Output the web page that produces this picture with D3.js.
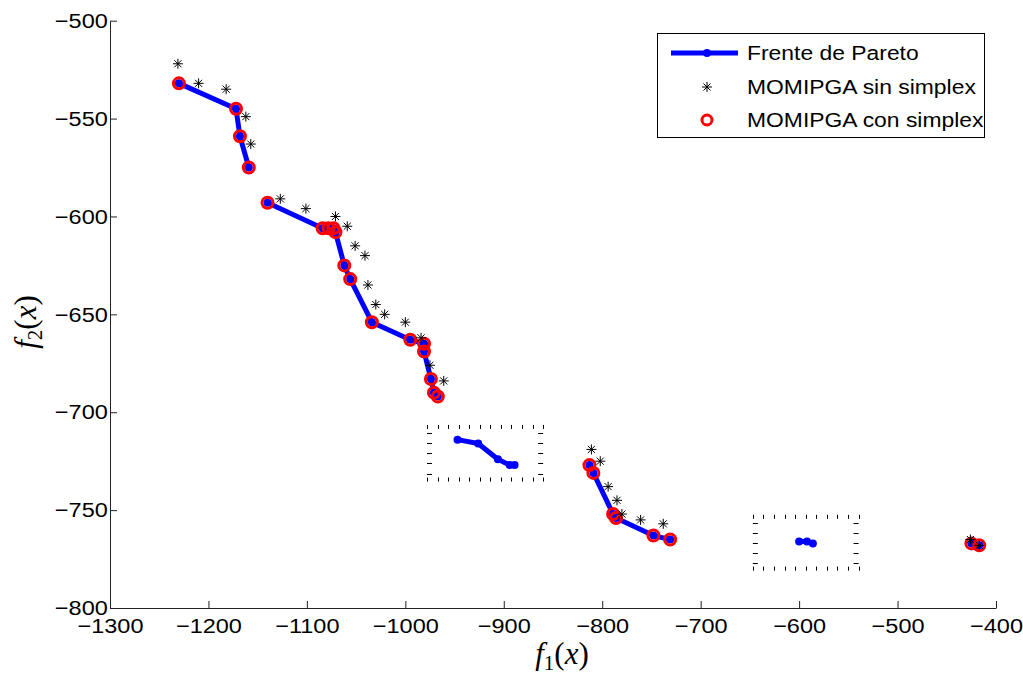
<!DOCTYPE html>
<html>
<head>
<meta charset="utf-8">
<script src="https://cdn.jsdelivr.net/npm/d3@7"></script>
<style>
  html, body { margin: 0; padding: 0; background: #fff; }
  svg { display: block; }
</style>
</head>
<body>
<div id="chart"></div>
<script>
// Pareto front, broken into pieces (x = f1, y = f2)
const frontSeg1 = [[-1230, -532], [-1172, -545], [-1168, -559], [-1159, -575]];
const frontSeg2 = [[-1140, -593], [-1084, -606], [-1078, -606], [-1073, -606], [-1071, -608],
  [-1062, -625], [-1056, -632], [-1034, -654], [-995, -663], [-981, -665], [-981, -669],
  [-974, -683], [-971, -690], [-967, -692]];
const frontSeg3 = [[-947, -714], [-926, -716], [-906, -724], [-894, -727], [-889, -727]];
const frontSeg4 = [[-813, -727], [-809, -731], [-789, -752], [-786, -754], [-748, -763], [-731, -765]];
const frontSeg5 = [[-600, -766], [-592, -766], [-586, -767]];
const frontSeg6 = [[-425, -767], [-417, -768]];

// MOMIPGA sin simplex
const sinSimplex = [[-1231, -522], [-1210, -532], [-1182, -535], [-1162, -549], [-1157, -563],
  [-1127, -591], [-1101, -596], [-1071, -600], [-1059, -605], [-1051, -615], [-1041, -620],
  [-1038, -635], [-1030, -645], [-1021, -650], [-1000, -654], [-984, -662], [-975, -676],
  [-961, -684], [-811, -719], [-802, -725], [-794, -738], [-785, -745], [-780, -752],
  [-761, -755], [-738, -757], [-426, -765], [-417, -768]];

// MOMIPGA con simplex
const conSimplex = [[-1230, -532], [-1172, -545], [-1168, -559], [-1159, -575],
  [-1140, -593], [-1084, -606], [-1078, -606], [-1073, -606], [-1071, -608],
  [-1062, -625], [-1056, -632], [-1034, -654], [-995, -663], [-981, -665], [-981, -669],
  [-974, -683], [-971, -690], [-967, -692],
  [-813, -727], [-809, -731], [-789, -752], [-786, -754], [-748, -763], [-731, -765],
  [-425, -767], [-417, -768]];

// dotted boxes: [x0, x1, y0, y1]
const boxes = [[-978, -860, -735.4, -706.5], [-647, -539.6, -780.9, -752.4]];

const xTicks = [-1300, -1200, -1100, -1000, -900, -800, -700, -600, -500, -400];
const yTicks = [-800, -750, -700, -650, -600, -550, -500];
const legendLabels = ["Frente de Pareto", "MOMIPGA sin simplex", "MOMIPGA con simplex"];

const width = 1023, height = 676;
const font = "'Liberation Sans', Arial, Helvetica, sans-serif";
const stretch = "scale(1.12,1)";

const svg = d3.select("#chart").append("svg")
  .attr("width", width)
  .attr("height", height)
  .attr("viewBox", [0, 0, width, height]);

const x = d3.scaleLinear().domain([-1300, -400]).range([110, 996]);
const y = d3.scaleLinear().domain([-800, -500]).range([608, 20.7]);

// asterisk marker
const star = r => {
  const d = r * 0.7071;
  return `M${-r},0L${r},0M0,${-r}L0,${r}M${-d},${-d}L${d},${d}M${-d},${d}L${d},${-d}`;
};

const minus = d => d3.format("d")(d).replace("-", "\u2212");

// axes
svg.append("g")
  .attr("transform", `translate(0,${y(-800)})`)
  .call(d3.axisBottom(x).tickValues(xTicks).tickSize(-7).tickSizeOuter(0).tickPadding(10).tickFormat(minus))
  .call(g => g.selectAll("line, path").attr("stroke", "#222"))
  .call(g => g.selectAll("text").attr("font-size", 21).attr("font-family", font)
    .attr("fill", "#000").attr("transform", stretch));

svg.append("g")
  .attr("transform", `translate(${x(-1300)},0)`)
  .call(d3.axisLeft(y).tickValues(yTicks).tickSize(-7).tickSizeOuter(0).tickPadding(2).tickFormat(minus))
  .call(g => g.selectAll("line, path").attr("stroke", "#222"))
  .call(g => g.selectAll("text").attr("font-size", 21).attr("font-family", font)
    .attr("fill", "#000").attr("transform", stretch));

// axis titles
const serif = "'Liberation Serif', 'DejaVu Serif', serif";
const xl = svg.append("text")
  .attr("x", 562).attr("y", 664)
  .attr("text-anchor", "middle")
  .attr("font-family", serif).attr("font-size", 31);
xl.append("tspan").attr("font-style", "italic").text("f");
xl.append("tspan").attr("font-size", 21).attr("dy", 6).text("1");
xl.append("tspan").attr("dy", -6).text("(");
xl.append("tspan").attr("font-style", "italic").text("x");
xl.append("tspan").text(")");

const yl = svg.append("text")
  .attr("transform", "translate(36,322) rotate(-90)")
  .attr("text-anchor", "middle")
  .attr("font-family", serif).attr("font-size", 31);
yl.append("tspan").attr("font-style", "italic").text("f");
yl.append("tspan").attr("font-size", 21).attr("dy", 6).text("2");
yl.append("tspan").attr("dy", -6).text("(");
yl.append("tspan").attr("font-style", "italic").text("x");
yl.append("tspan").text(")");

// dotted boxes drawn as rows of small ticks
boxes.forEach(([bx0, bx1, by0, by1]) => {
  const px0 = x(bx0), px1 = x(bx1), py0 = y(by1), py1 = y(by0);
  const g = svg.append("g").attr("stroke", "#000").attr("stroke-width", 1);
  const nx = Math.round((px1 - px0) / 10.4);
  d3.range(nx + 1).forEach(i => {
    const xx = Math.round(px0 + i * (px1 - px0) / nx) + 0.5;
    g.append("line").attr("x1", xx).attr("x2", xx).attr("y1", py0).attr("y2", py0 + 4);
    g.append("line").attr("x1", xx).attr("x2", xx).attr("y1", py1 - 4).attr("y2", py1);
  });
  d3.range(5).forEach(i => {
    const yy = Math.round(py0 + 8 + i * (py1 - py0 - 16) / 4) + 0.5;
    g.append("line").attr("x1", px0).attr("x2", px0 + 5).attr("y1", yy).attr("y2", yy);
    g.append("line").attr("x1", px1 - 5).attr("x2", px1).attr("y1", yy).attr("y2", yy);
  });
});

// Pareto front
const line = d3.line().x(d => x(d[0])).y(d => y(d[1]));
const segments = [frontSeg1, frontSeg2, frontSeg3, frontSeg4, frontSeg5, frontSeg6];
const front = svg.append("g");
segments.forEach(seg => {
  front.append("path").datum(seg)
    .attr("d", line)
    .attr("fill", "none")
    .attr("stroke", "#0000ff")
    .attr("stroke-width", 5)
    .attr("stroke-linejoin", "round");
  front.selectAll(null).data(seg).join("circle")
    .attr("cx", d => x(d[0])).attr("cy", d => y(d[1]))
    .attr("r", 4).attr("fill", "#0000ff");
});

// con simplex circles
svg.append("g").selectAll("circle").data(conSimplex).join("circle")
  .attr("cx", d => x(d[0])).attr("cy", d => y(d[1]))
  .attr("r", 5.5)
  .attr("fill", "none")
  .attr("stroke", "#ff0000")
  .attr("stroke-width", 3);

// sin simplex stars
svg.append("g").selectAll("path").data(sinSimplex).join("path")
  .attr("transform", d => `translate(${x(d[0])},${y(d[1])})`)
  .attr("d", star(5))
  .attr("fill", "none")
  .attr("stroke", "#000")
  .attr("stroke-width", 1);

// legend
const lg = svg.append("g");
lg.append("rect")
  .attr("x", 657.5).attr("y", 33.5).attr("width", 327).attr("height", 104)
  .attr("fill", "#fff").attr("stroke", "#000").attr("stroke-width", 1);
const rows = [53, 87, 120];
lg.append("line").attr("x1", 671).attr("x2", 738).attr("y1", rows[0]).attr("y2", rows[0])
  .attr("stroke", "#0000ff").attr("stroke-width", 5);
lg.append("circle").attr("cx", 707).attr("cy", rows[0]).attr("r", 4).attr("fill", "#0000ff");
lg.append("path").attr("transform", `translate(707,${rows[1]})`).attr("d", star(5))
  .attr("stroke", "#000").attr("fill", "none");
lg.append("circle").attr("cx", 707).attr("cy", rows[2]).attr("r", 5)
  .attr("fill", "none").attr("stroke", "#ff0000").attr("stroke-width", 3);
lg.selectAll("text.lab").data(legendLabels).join("text")
  .attr("class", "lab")
  .attr("transform", (d, i) => `translate(747,${rows[i]}) scale(1.09,1)`)
  .attr("dy", "0.35em")
  .attr("font-family", font).attr("font-size", 21)
  .text(d => d);
</script>
</body>
</html>
